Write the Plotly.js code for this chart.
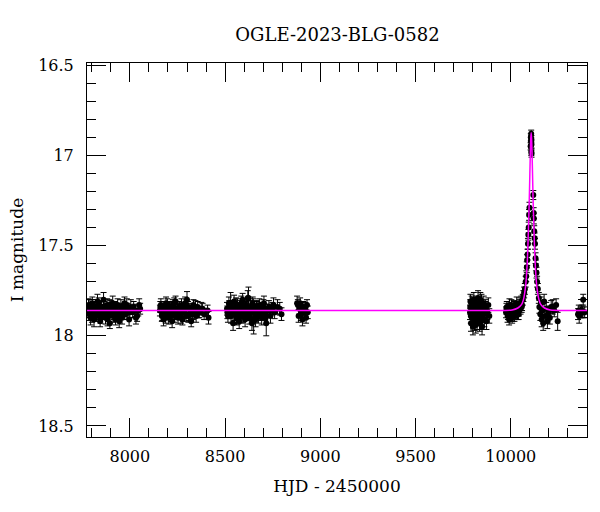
<!DOCTYPE html>
<html>
<head>
<meta charset="utf-8">
<script src="https://cdn.plot.ly/plotly-3.0.1.min.js"></script>
<style>html,body{margin:0;padding:0;background:#fff}#chart{width:600px;height:512px}</style>
</head>
<body>
<div id="chart"></div>
<script>
// ---- photometry (HJD - 2450000, I mag, error) per observing season ----
const s1_t = [7781,7786,7790,7794,7799,7803,7808,7812,7817,7821,7826,7830,7835,7839,7844,7849,7853,7858,7862,7867,7872,7876,7881,7886,7890,7895,7900,7905,7910,7915,7920,7925,7930,7936,7941,7947,7953,7959,7966,7972,7980,7988,7996,8005,8015,8026,8038,8049,8054];
const s1_m = [17.85,17.88,17.83,17.90,17.86,17.82,17.87,17.91,17.84,17.86,17.89,17.81,17.87,17.85,17.92,17.84,17.88,17.86,17.80,17.87,17.90,17.85,17.83,17.89,17.86,17.93,17.84,17.87,17.82,17.88,17.85,17.91,17.86,17.83,17.89,17.87,17.84,17.90,17.86,17.82,17.88,17.85,17.91,17.84,17.87,17.86,17.89,17.83,17.85];
const s1_e = [0.03,0.035,0.03,0.04,0.03,0.035,0.03,0.04,0.03,0.035,0.03,0.04,0.03,0.035,0.03,0.035,0.03,0.03,0.04,0.03,0.035,0.03,0.035,0.03,0.03,0.03,0.035,0.03,0.04,0.03,0.035,0.03,0.03,0.035,0.03,0.03,0.04,0.035,0.03,0.035,0.03,0.03,0.035,0.04,0.03,0.035,0.03,0.035,0.03];
const s1b_t = [7783,7792,7801,7810,7819,7828,7837,7846,7855,7864,7874,7883,7892,7902,7912,7922,7933,7944,7956,7969,7984,8000,8020,8032,8044];
const s1b_m = [17.83,17.87,17.89,17.84,17.88,17.85,17.82,17.90,17.86,17.84,17.88,17.91,17.83,17.86,17.89,17.84,17.87,17.92,17.85,17.88,17.83,17.87,17.84,17.90,17.86];
const s1b_e = [0.035,0.03,0.035,0.03,0.03,0.035,0.03,0.03,0.035,0.03,0.03,0.035,0.03,0.03,0.035,0.03,0.03,0.035,0.03,0.03,0.035,0.03,0.03,0.035,0.03];

const s2_t = [8158,8163,8168,8172,8177,8181,8186,8190,8195,8199,8204,8208,8213,8217,8222,8226,8231,8235,8240,8244,8249,8253,8258,8262,8267,8271,8276,8281,8285,8290,8295,8300,8305,8310,8316,8322,8328,8334,8341,8348,8356,8365,8375,8390,8408,8413];
const s2_m = [17.86,17.83,17.89,17.85,17.91,17.84,17.87,17.82,17.88,17.86,17.90,17.84,17.87,17.85,17.92,17.83,17.86,17.89,17.81,17.87,17.85,17.90,17.84,17.88,17.86,17.83,17.91,17.85,17.87,17.82,17.89,17.80,17.84,17.88,17.85,17.92,17.87,17.83,17.86,17.89,17.84,17.87,17.85,17.88,17.86,17.90];
const s2_e = [0.03,0.035,0.03,0.03,0.035,0.03,0.03,0.035,0.03,0.03,0.035,0.03,0.03,0.03,0.035,0.03,0.03,0.035,0.03,0.03,0.03,0.035,0.03,0.03,0.03,0.035,0.03,0.03,0.03,0.035,0.03,0.045,0.03,0.035,0.03,0.03,0.035,0.03,0.03,0.035,0.03,0.03,0.035,0.03,0.03,0.035];
const s2b_t = [8160,8170,8179,8188,8197,8206,8215,8224,8233,8242,8251,8260,8269,8278,8287,8297,8307,8319,8331,8344,8360,8382];
const s2b_m = [17.84,17.88,17.86,17.90,17.83,17.87,17.89,17.85,17.82,17.88,17.86,17.84,17.90,17.87,17.85,17.83,17.89,17.86,17.88,17.84,17.87,17.85];
const s2b_e = [0.03,0.035,0.03,0.03,0.035,0.03,0.03,0.035,0.03,0.03,0.035,0.03,0.03,0.035,0.03,0.03,0.035,0.03,0.03,0.035,0.03,0.03];

const s3_t = [8510,8515,8520,8524,8529,8533,8538,8542,8547,8551,8556,8560,8565,8569,8574,8578,8583,8587,8592,8596,8601,8605,8610,8614,8619,8623,8627,8632,8636,8641,8645,8650,8655,8660,8665,8670,8675,8680,8686,8692,8698,8704,8710,8716,8723,8730,8738,8748,8760,8775,8787,8796];
const s3_m = [17.85,17.89,17.82,17.87,17.82,17.84,17.86,17.93,17.81,17.88,17.85,17.90,17.83,17.87,17.92,17.86,17.84,17.89,17.80,17.87,17.85,17.91,17.83,17.88,17.79,17.79,17.90,17.84,17.87,17.93,17.82,17.91,17.86,17.91,17.84,17.87,17.89,17.83,17.86,17.90,17.85,17.82,17.88,17.93,17.86,17.84,17.89,17.85,17.87,17.84,17.85,17.88];
const s3_e = [0.035,0.035,0.035,0.035,0.06,0.035,0.035,0.04,0.035,0.035,0.035,0.04,0.035,0.035,0.04,0.035,0.035,0.04,0.035,0.035,0.035,0.04,0.035,0.035,0.04,0.06,0.035,0.035,0.035,0.04,0.035,0.08,0.035,0.04,0.035,0.035,0.04,0.035,0.035,0.04,0.035,0.04,0.035,0.07,0.035,0.035,0.04,0.035,0.035,0.04,0.035,0.035];
const s3b_t = [8512,8522,8531,8540,8549,8558,8567,8576,8585,8594,8603,8612,8621,8630,8639,8648,8658,8668,8678,8689,8701,8713,8734,8754];
const s3b_m = [17.87,17.84,17.89,17.85,17.88,17.83,17.90,17.86,17.82,17.89,17.87,17.85,17.84,17.88,17.86,17.83,17.89,17.85,17.88,17.87,17.84,17.90,17.86,17.83];
const s3b_e = [0.035,0.035,0.04,0.035,0.035,0.04,0.035,0.035,0.04,0.035,0.035,0.04,0.035,0.035,0.04,0.035,0.035,0.04,0.035,0.035,0.04,0.035,0.035,0.04];

const s4_t = [8878,8882,8886,8890,8894,8898,8902,8906,8910,8915,8920,8925,8930,8934];
const s4_m = [17.82,17.83,17.89,17.85,17.82,17.88,17.86,17.91,17.84,17.87,17.85,17.90,17.83,17.87];
const s4_e = [0.04,0.03,0.035,0.03,0.03,0.035,0.03,0.035,0.03,0.03,0.035,0.03,0.03,0.035];

const s5_t = [9786,9788,9791,9793,9796,9798,9801,9803,9806,9808,9811,9813,9816,9818,9821,9823,9826,9828,9831,9833,9836,9838,9841,9843,9846,9849,9852,9855,9858,9861,9864,9868,9872,9877,9882,9887];
const s5_m = [17.87,17.81,17.93,17.85,17.90,17.83,17.95,17.86,17.80,17.91,17.84,17.88,17.94,17.82,17.87,17.92,17.85,17.79,17.89,17.86,17.93,17.83,17.90,17.87,17.81,17.95,17.85,17.88,17.82,17.91,17.86,17.84,17.92,17.87,17.83,17.89];
const s5_e = [0.04,0.04,0.045,0.04,0.04,0.04,0.045,0.04,0.04,0.04,0.04,0.04,0.045,0.04,0.04,0.045,0.04,0.04,0.04,0.04,0.045,0.04,0.04,0.04,0.04,0.045,0.04,0.04,0.04,0.04,0.04,0.04,0.045,0.04,0.04,0.04];
const s5b_t = [9787,9790,9795,9800,9805,9810,9815,9820,9825,9830,9835,9840,9845,9851,9857,9866];
const s5b_m = [17.84,17.89,17.82,17.88,17.85,17.93,17.86,17.83,17.90,17.84,17.87,17.80,17.92,17.86,17.88,17.85];
const s5b_e = [0.04,0.04,0.04,0.045,0.04,0.04,0.04,0.04,0.045,0.04,0.04,0.04,0.045,0.04,0.04,0.04];

const s6_t = [9975,9979,9983,9987,9991,9995,9999,10003,10007,10011,10015,10019,10023,10027,10031,10035,10039,10043,10047,10051,10055,10059,10063,10066,10070,10074,10078,10081,10084,10086,10088,10090,10092,10094,10096,10098,10104,10105,10106,10107,10107.5,10108,10108.5,10109,10118,10120,10121,10123,10125,10127,10130,10132,10135,10138,10142,10147,10150,10155,10158,10162,10166,10170,10175,10180,10186,10192,10198,10205,10212,10220,10228,10238,10246];
const s6_m = [17.87,17.84,17.89,17.86,17.91,17.85,17.88,17.83,17.90,17.86,17.84,17.89,17.85,17.87,17.82,17.88,17.84,17.86,17.83,17.85,17.81,17.83,17.80,17.78,17.76,17.74,17.70,17.67,17.62,17.58,17.55,17.49,17.44,17.40,17.33,17.29,16.95,16.90,16.92,16.88,16.98,16.91,16.94,16.99,17.22,17.32,17.35,17.42,17.46,17.49,17.57,17.61,17.65,17.70,17.74,17.79,17.84,17.88,17.82,17.91,17.86,17.93,17.81,17.89,17.85,17.92,17.87,17.90,17.84,17.84,17.86,17.83,17.92];
const s6_e = [0.03,0.03,0.035,0.03,0.03,0.03,0.035,0.03,0.03,0.03,0.035,0.03,0.03,0.03,0.035,0.03,0.03,0.03,0.03,0.03,0.03,0.03,0.03,0.03,0.03,0.03,0.03,0.03,0.03,0.03,0.03,0.03,0.03,0.03,0.03,0.03,0.02,0.02,0.02,0.02,0.02,0.02,0.02,0.02,0.025,0.03,0.03,0.03,0.03,0.03,0.03,0.03,0.03,0.03,0.03,0.03,0.035,0.035,0.035,0.04,0.035,0.04,0.04,0.035,0.035,0.04,0.035,0.035,0.035,0.04,0.035,0.035,0.05];
const s6b_t = [9977,9985,9993,10001,10009,10017,10025,10033,10041,10049,10057];
const s6b_m = [17.85,17.88,17.83,17.86,17.89,17.84,17.87,17.85,17.88,17.82,17.84];
const s6b_e = [0.03,0.03,0.035,0.03,0.03,0.03,0.035,0.03,0.03,0.03,0.03];

const s7_t = [10353,10357,10359,10366,10372,10377,10380,10388];
const s7_m = [17.88,17.86,17.89,17.87,17.86,17.87,17.80,17.87];
const s7_e = [0.03,0.03,0.04,0.03,0.03,0.03,0.03,0.03];

// ---- microlensing model curve ----
const model_t = [7775,9907,10007,10037,10057,10067,10077,10082,10087,10091,10094,10097,10099,10101,10103,10105,10107,10109,10111,10113,10115,10117,10120,10123,10127,10132,10137,10147,10157,10177,10207,10307,10400];
const model_m = [17.86,17.86,17.857,17.846,17.826,17.797,17.73,17.671,17.579,17.462,17.358,17.244,17.15,17.054,16.966,16.903,16.875,16.903,16.966,17.054,17.15,17.244,17.358,17.462,17.579,17.671,17.73,17.797,17.826,17.846,17.857,17.86,17.86];

const titleText = "OGLE-2023-BLG-0582";
const xTitle = "HJD - 2450000";
const yTitle = "I magnitude";

const seasons = [
  [s1_t,s1_m,s1_e],[s1b_t,s1b_m,s1b_e],[s2_t,s2_m,s2_e],[s2b_t,s2b_m,s2b_e],
  [s3_t,s3_m,s3_e],[s3b_t,s3b_m,s3b_e],[s4_t,s4_m,s4_e],[s5_t,s5_m,s5_e],[s5b_t,s5b_m,s5b_e],
  [s6_t,s6_m,s6_e],[s6b_t,s6b_m,s6b_e],[s7_t,s7_m,s7_e]];
const traces = seasons.map(s => ({
  x: s[0], y: s[1], type: 'scatter', mode: 'markers',
  marker: {color: '#000', size: 6},
  error_y: {type: 'data', array: s[2], visible: true, color: '#000', thickness: 1, width: 3},
  showlegend: false, hoverinfo: 'x+y'
}));
traces.push({x: model_t, y: model_m, type: 'scatter', mode: 'lines',
  line: {color: '#ff00ff', width: 1.5, shape: 'spline', smoothing: 0.6}, showlegend: false});

const F = 'DejaVu Serif, serif';
const axisCommon = {
  showgrid: false, zeroline: false, showline: true, linecolor: '#000', linewidth: 1,
  mirror: 'allticks', ticks: 'inside', ticklen: 19, tickwidth: 1, tickcolor: '#000',
  tickfont: {family: F, size: 16, color: '#000'}
};
const layout = {
  width: 600, height: 512,
  margin: {l: 87, r: 13, t: 63, b: 75},
  paper_bgcolor: '#fff', plot_bgcolor: '#fff',
  font: {family: F, color: '#000'},
  title: {text: titleText, font: {family: F, size: 18, color: '#000'}, x: 0.5625, xanchor: 'center', y: 0.932, yanchor: 'middle'},
  xaxis: Object.assign({}, axisCommon, {
    range: [7775, 10400], dtick: 500, tick0: 0, tickformat: 'd', ticklabelstandoff: 5,
    minor: {ticks: 'inside', ticklen: 9, dtick: 100, tick0: 0, tickcolor: '#000', tickwidth: 1, showgrid: false},
    title: {text: xTitle, font: {family: F, size: 17, color: '#000'}, standoff: 14}
  }),
  yaxis: Object.assign({}, axisCommon, {
    range: [18.561, 16.488], dtick: 0.5, tick0: 0, ticklabelstandoff: 9,
    minor: {ticks: 'inside', ticklen: 9, dtick: 0.1, tick0: 0, tickcolor: '#000', tickwidth: 1, showgrid: false},
    title: {text: yTitle, font: {family: F, size: 17, color: '#000'}, standoff: 10}
  })
};
Plotly.newPlot('chart', traces, layout, {staticPlot: true, displayModeBar: false});
</script>
</body>
</html>
